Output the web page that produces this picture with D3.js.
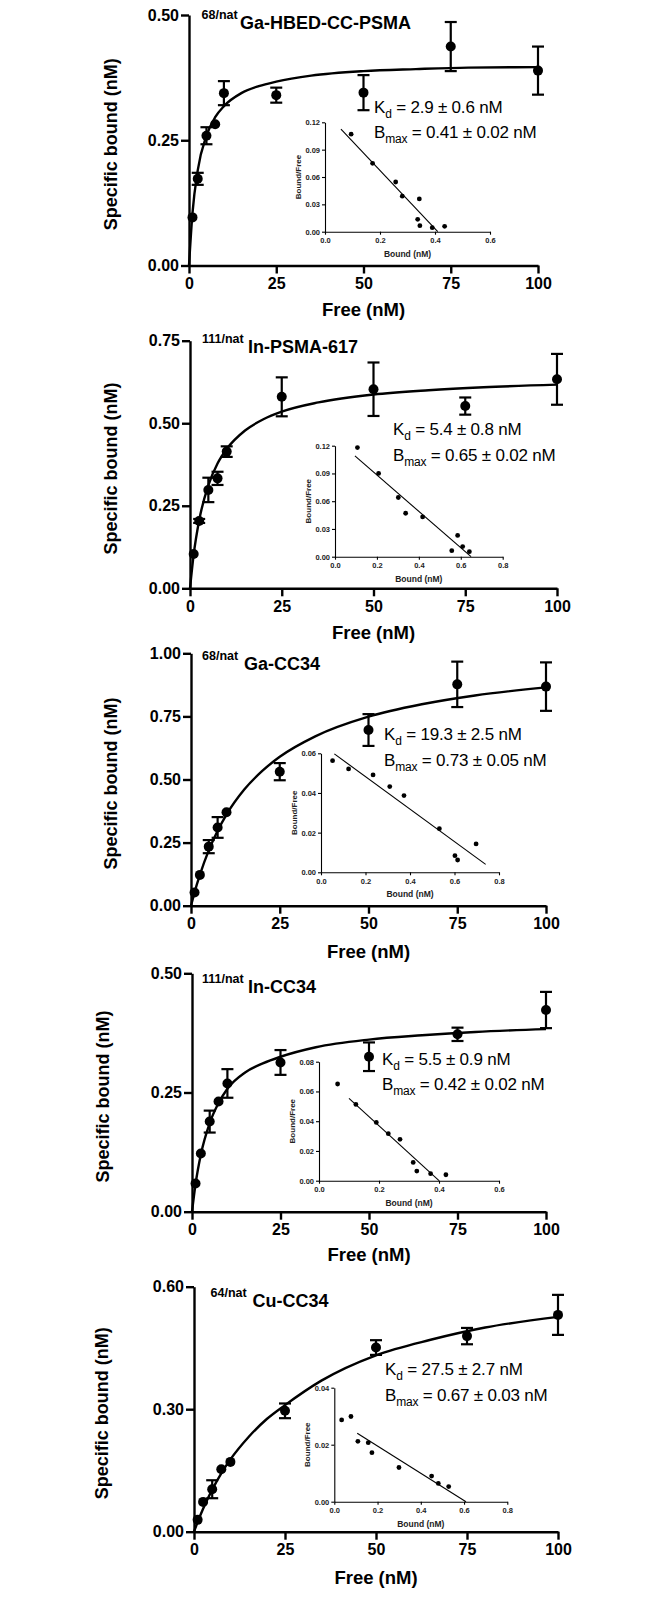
<!DOCTYPE html>
<html>
<head>
<meta charset="utf-8">
<title>Saturation binding</title>
<style>
body{margin:0;background:#fff;}
svg text{font-family:"Liberation Sans",Arial,sans-serif;fill:#000;}
.axis path,.axis line{stroke:#000;stroke-width:2.4;}
.axis text{font-size:16px;font-weight:bold;}
.inset path,.inset line{stroke:#000;stroke-width:1.1;}
.inset text{font-size:7.5px;font-weight:bold;fill:#222;}
.fit{fill:none;stroke:#000;stroke-width:2.4;}
.err{stroke:#000;stroke-width:2.2;}
.scatLine{stroke:#000;stroke-width:1.1;}
</style>
</head>
<body>
<svg width="670" height="1598"></svg>
<script src="https://cdn.jsdelivr.net/npm/d3@7"></script>
<script>
// free ligand concentrations (nM), same for every panel
var conc = [1, 2.5, 5, 7.5, 10, 25, 50, 75, 100];
var fitConc = [0, 1, 2.5, 5, 7.5, 10, 15, 20, 25, 35, 50, 65, 80, 100];
var xTicks = [0, 25, 50, 75, 100];

// 68/nat Ga-HBED-CC-PSMA
var boundGaPSMA = [0.096, 0.173, 0.259, 0.282, 0.344, 0.340, 0.345, 0.437, 0.389];
var errGaPSMA   = [0, 0.012, 0.017, 0, 0.024, 0.015, 0.035, 0.049, 0.048];
var fitGaPSMA   = [0, 0.105, 0.190, 0.259, 0.296, 0.318, 0.344, 0.358, 0.367, 0.379, 0.388, 0.392, 0.395, 0.396];
var scatBoundGaPSMA = [0.095, 0.173, 0.257, 0.281, 0.343, 0.337, 0.345, 0.435, 0.39];
var scatRatioGaPSMA = [0.107, 0.075, 0.0545, 0.039, 0.036, 0.0136, 0.0066, 0.0059, 0.0044];
var scatLineGaPSMA  = [[0.058, 0.1126], [0.41, 0]];

// 111/nat In-PSMA-617
var boundInPSMA = [0.104, 0.204, 0.298, 0.333, 0.414, 0.580, 0.603, 0.552, 0.633];
var errInPSMA   = [0, 0.006, 0.037, 0.02, 0.016, 0.059, 0.081, 0.026, 0.077];
var fitInPSMA   = [0, 0.102, 0.206, 0.312, 0.378, 0.422, 0.478, 0.512, 0.535, 0.563, 0.587, 0.600, 0.609, 0.617];
var scatBoundInPSMA = [0.107, 0.208, 0.302, 0.337, 0.418, 0.585, 0.557, 0.609, 0.641];
var scatRatioInPSMA = [0.118, 0.090, 0.064, 0.047, 0.043, 0.023, 0.0065, 0.011, 0.0054];
var scatLineInPSMA  = [[0.095, 0.109], [0.649, 0]];

// 68/nat Ga-CC34
var boundGaCC34 = [0.052, 0.122, 0.234, 0.310, 0.370, 0.531, 0.696, 0.877, 0.868];
var errGaCC34   = [0, 0, 0.026, 0.041, 0, 0.034, 0.063, 0.09, 0.096];
var fitGaCC34   = [0, 0.053, 0.122, 0.219, 0.297, 0.361, 0.460, 0.533, 0.590, 0.671, 0.749, 0.798, 0.833, 0.865];
var scatBoundGaCC34 = [0.052, 0.124, 0.234, 0.309, 0.373, 0.532, 0.602, 0.614, 0.697];
var scatRatioGaCC34 = [0.0563, 0.0521, 0.0491, 0.0432, 0.0387, 0.022, 0.0084, 0.0062, 0.0143];
var scatLineGaCC34  = [[0.06, 0.0597], [0.74, 0.004]];

// 111/nat In-CC34
var boundInCC34 = [0.059, 0.122, 0.189, 0.231, 0.269, 0.313, 0.325, 0.372, 0.423];
var errInCC34   = [0, 0, 0.023, 0, 0.03, 0.026, 0.03, 0.014, 0.038];
var fitInCC34   = [0, 0.058, 0.12, 0.186, 0.228, 0.258, 0.292, 0.311, 0.325, 0.345, 0.361, 0.370, 0.377, 0.383];
var scatBoundInCC34 = [0.062, 0.123, 0.191, 0.231, 0.27, 0.314, 0.326, 0.372, 0.423];
var scatRatioInCC34 = [0.065, 0.0513, 0.0392, 0.0316, 0.0278, 0.0123, 0.0065, 0.0047, 0.004];
var scatLineInCC34  = [[0.1, 0.0553], [0.4, 0]];

// 64/nat Cu-CC34
var boundCuCC34 = [0.029, 0.073, 0.104, 0.153, 0.171, 0.296, 0.451, 0.479, 0.531];
var errCuCC34   = [0, 0, 0.022, 0, 0, 0.018, 0.018, 0.02, 0.049];
var fitCuCC34   = [0, 0.0235, 0.056, 0.103, 0.143, 0.177, 0.232, 0.276, 0.31, 0.37, 0.432, 0.47, 0.5, 0.526];
var scatBoundCuCC34 = [0.034, 0.077, 0.109, 0.157, 0.174, 0.299, 0.45, 0.481, 0.529];
var scatRatioCuCC34 = [0.0287, 0.0299, 0.0212, 0.0207, 0.0172, 0.012, 0.009, 0.0064, 0.0053];
var scatLineCuCC34  = [[0.106, 0.024], [0.609, 0]];

var names = ["Ga-HBED-CC-PSMA", "In-PSMA-617", "Ga-CC34", "In-CC34", "Cu-CC34"];
var isotopes = ["68/nat", "111/nat", "68/nat", "111/nat", "64/nat"];
var kdText = ["2.9 \u00b1 0.6 nM", "5.4 \u00b1 0.8 nM", "19.3 \u00b1 2.5 nM", "5.5 \u00b1 0.9 nM", "27.5 \u00b1 2.7 nM"];
var bmaxText = ["0.41 \u00b1 0.02 nM", "0.65 \u00b1 0.02 nM", "0.73 \u00b1 0.05 nM", "0.42 \u00b1 0.02 nM", "0.67 \u00b1 0.03 nM"];
var yTicksMain = [[0, 0.25, 0.5], [0, 0.25, 0.5, 0.75], [0, 0.25, 0.5, 0.75, 1], [0, 0.25, 0.5], [0, 0.3, 0.6]];
var insetXTicks = [[0, 0.2, 0.4, 0.6], [0, 0.2, 0.4, 0.6, 0.8], [0, 0.2, 0.4, 0.6, 0.8], [0, 0.2, 0.4, 0.6], [0, 0.2, 0.4, 0.6, 0.8]];
var insetYTicks = [[0, 0.03, 0.06, 0.09, 0.12], [0, 0.03, 0.06, 0.09, 0.12], [0, 0.02, 0.04, 0.06], [0, 0.02, 0.04, 0.06, 0.08], [0, 0.02, 0.04]];

var series = [
	[boundGaPSMA, errGaPSMA, fitGaPSMA, scatBoundGaPSMA, scatRatioGaPSMA, scatLineGaPSMA],
	[boundInPSMA, errInPSMA, fitInPSMA, scatBoundInPSMA, scatRatioInPSMA, scatLineInPSMA],
	[boundGaCC34, errGaCC34, fitGaCC34, scatBoundGaCC34, scatRatioGaCC34, scatLineGaCC34],
	[boundInCC34, errInCC34, fitInCC34, scatBoundInCC34, scatRatioInCC34, scatLineInCC34],
	[boundCuCC34, errCuCC34, fitCuCC34, scatBoundCuCC34, scatRatioCuCC34, scatLineCuCC34]
];

// page layout of each panel (pixels)
var layout = [
	{l:189, r:538, t:15, b:265.5, ty:28.5, sx:201.5, mx:240, kx:374, ky:112.7, yt:111, xt:310, il:325, ir:490, it:122.3, ib:231.7},
	{l:190, r:557, t:340.7, b:588.3, ty:353, sx:202, mx:248, kx:393, ky:435, yt:111, xt:633, il:335, ir:502.7, it:445.7, ib:556.7},
	{l:191, r:546, t:653.3, b:905.7, ty:670, sx:202, mx:244, kx:384, ky:740, yt:111, xt:952, il:321, ir:499, it:753.3, ib:872.3},
	{l:192, r:546, t:973.3, b:1211.7, ty:993, sx:202, mx:248, kx:382, ky:1064.5, yt:103, xt:1255, il:319, ir:499, it:1061.7, ib:1180.7},
	{l:194, r:558, t:1286.7, b:1531.7, ty:1306.7, sx:210.5, mx:252.5, kx:385, ky:1375, yt:102, xt:1578, il:334.3, ir:507.3, it:1387.7, ib:1501.7}
];

var svg = d3.select("svg");

layout.forEach(function(p, i){
	var s = series[i];
	var yT = yTicksMain[i];
	var g = svg.append("g");
	var x = d3.scaleLinear().domain([0, 100]).range([p.l, p.r]);
	var y = d3.scaleLinear().domain([0, yT[yT.length - 1]]).range([p.b, p.t]);

	g.append("g").attr("class", "axis")
		.attr("transform", "translate(0," + p.b + ")")
		.call(d3.axisBottom(x).tickValues(xTicks).tickSize(8).tickSizeOuter(0).tickPadding(4).tickFormat(d3.format("d")));
	g.append("g").attr("class", "axis")
		.attr("transform", "translate(" + p.l + ",0)")
		.call(d3.axisLeft(y).tickValues(yT).tickSize(8).tickSizeOuter(0).tickPadding(2).tickFormat(d3.format(".2f")));

	// axis titles
	g.append("text")
		.attr("transform", "translate(" + p.yt + "," + ((p.t + p.b) / 2 + 4) + ") rotate(-90)")
		.attr("text-anchor", "middle").attr("dy", "0.35em")
		.style("font-size", "18px").style("font-weight", "bold")
		.text("Specific bound (nM)");
	g.append("text")
		.attr("x", (p.l + p.r) / 2).attr("y", p.xt).attr("dy", "0.35em")
		.attr("text-anchor", "middle")
		.style("font-size", "18.5px").style("font-weight", "bold")
		.text("Free (nM)");

	// compound label
	g.append("text").attr("x", p.sx).attr("y", p.ty - 10)
		.style("font-size", "12.5px").style("font-weight", "bold")
		.text(isotopes[i]);
	g.append("text").attr("x", p.mx).attr("y", p.ty)
		.style("font-size", "18px").style("font-weight", "bold")
		.text(names[i]);

	// fit curve
	var line = d3.line()
		.x(function(d){ return x(d[0]); })
		.y(function(d){ return y(d[1]); })
		.curve(d3.curveMonotoneX);
	g.append("path").attr("class", "fit")
		.attr("d", line(fitConc.map(function(c, k){ return [c, s[2][k]]; })));

	// error bars and points
	var pts = conc.map(function(c, k){ return {x:c, y:s[0][k], e:s[1][k]}; });
	var eb = g.selectAll(".eb").data(pts.filter(function(d){ return d.e > 0; })).enter().append("g");
	eb.append("line").attr("class", "err")
		.attr("x1", function(d){ return x(d.x); }).attr("x2", function(d){ return x(d.x); })
		.attr("y1", function(d){ return y(d.y - d.e); }).attr("y2", function(d){ return y(d.y + d.e); });
	[-1, 1].forEach(function(sg){
		eb.append("line").attr("class", "err")
			.attr("x1", function(d){ return x(d.x) - 6; }).attr("x2", function(d){ return x(d.x) + 6; })
			.attr("y1", function(d){ return y(d.y + sg * d.e); }).attr("y2", function(d){ return y(d.y + sg * d.e); });
	});
	g.selectAll(".pt").data(pts).enter().append("circle")
		.attr("cx", function(d){ return x(d.x); })
		.attr("cy", function(d){ return y(d.y); })
		.attr("r", 5).attr("fill", "#000");

	// Kd / Bmax
	var kd = g.append("text").attr("x", p.kx).attr("y", p.ky).style("font-size", "17px").style("letter-spacing", "-0.2px");
	kd.append("tspan").text("K");
	kd.append("tspan").attr("dy", 5).style("font-size", "12px").text("d");
	kd.append("tspan").attr("dy", -5).text(" = " + kdText[i]);
	var bm = g.append("text").attr("x", p.kx).attr("y", p.ky + 25.5).style("font-size", "17px").style("letter-spacing", "-0.2px");
	bm.append("tspan").text("B");
	bm.append("tspan").attr("dy", 5).style("font-size", "12px").text("max");
	bm.append("tspan").attr("dy", -5).text(" = " + bmaxText[i]);

	// Scatchard inset
	var xi_t = insetXTicks[i], yi_t = insetYTicks[i];
	var xi = d3.scaleLinear().domain([0, xi_t[xi_t.length - 1]]).range([p.il, p.ir]);
	var yi = d3.scaleLinear().domain([0, yi_t[yi_t.length - 1]]).range([p.ib, p.it]);
	var ins = g.append("g");
	ins.append("g").attr("class", "inset")
		.attr("transform", "translate(0," + p.ib + ")")
		.call(d3.axisBottom(xi).tickValues(xi_t).tickSize(3).tickSizeOuter(0).tickPadding(3).tickFormat(d3.format(".1f")));
	ins.append("g").attr("class", "inset")
		.attr("transform", "translate(" + p.il + ",0)")
		.call(d3.axisLeft(yi).tickValues(yi_t).tickSize(3).tickSizeOuter(0).tickPadding(2).tickFormat(d3.format(".2f")));
	ins.append("text")
		.attr("x", (p.il + p.ir) / 2).attr("y", p.ib + 22).attr("dy", "0.35em")
		.attr("text-anchor", "middle")
		.style("font-size", "8.5px").style("font-weight", "bold").style("fill", "#222")
		.text("Bound (nM)");
	ins.append("text")
		.attr("transform", "translate(" + (p.il - 27) + "," + (p.it + p.ib) / 2 + ") rotate(-90)")
		.attr("text-anchor", "middle").attr("dy", "0.35em")
		.style("font-size", "8px").style("font-weight", "bold").style("fill", "#222")
		.text("Bound/Free");
	ins.append("line").attr("class", "scatLine")
		.attr("x1", xi(s[5][0][0])).attr("y1", yi(s[5][0][1]))
		.attr("x2", xi(s[5][1][0])).attr("y2", yi(s[5][1][1]));
	ins.selectAll(".sp").data(s[3].map(function(b, k){ return [b, s[4][k]]; })).enter().append("circle")
		.attr("cx", function(d){ return xi(d[0]); })
		.attr("cy", function(d){ return yi(d[1]); })
		.attr("r", 2.4).attr("fill", "#000");
});
</script>
</body>
</html>
